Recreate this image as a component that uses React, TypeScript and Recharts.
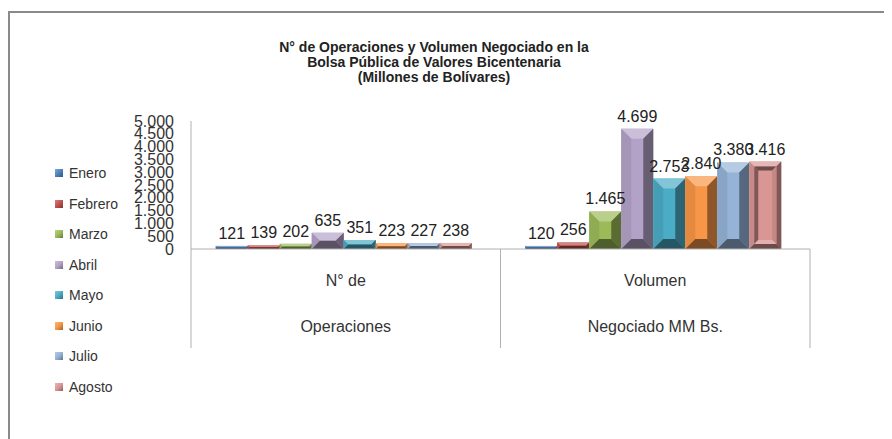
import React from 'react';
import { BarChart, Bar, XAxis, YAxis, LabelList, Legend } from 'recharts';

const categories = ['Operaciones', 'Volumen'];
const categoryLines: Record<string, string[]> = {
  Operaciones: ['N° de', 'Operaciones'],
  Volumen: ['Volumen', 'Negociado MM Bs.'],
};
const months = ['Enero', 'Febrero', 'Marzo', 'Abril', 'Mayo', 'Junio', 'Julio', 'Agosto'];
const monthColors = ['#4F81BD', '#C0504D', '#9BBB59', '#B3A2C7', '#4BACC6', '#F79646', '#95B3D7', '#D99694'];
const operaciones = [121, 139, 202, 635, 351, 223, 227, 238];
const volumen = [120, 256, 1465, 4699, 2753, 2840, 3380, 3416];
const yTicks = [0, 500, 1000, 1500, 2000, 2500, 3000, 3500, 4000, 4500, 5000];
const titleLines = [
  'N° de Operaciones y Volumen Negociado en la',
  'Bolsa Pública de Valores Bicentenaria',
  '(Millones de Bolívares)',
];

const data = categories.map((cat, ci) => {
  const row: Record<string, string | number> = { name: cat };
  months.forEach((m, mi) => {
    row[m] = ci === 0 ? operaciones[mi] : volumen[mi];
  });
  return row;
});

const FONT = '"Liberation Sans", Arial, sans-serif';
const CHART_W = 884;
const CHART_H = 431;
const PLOT_W = 619;

const fmt = (v: number) => String(v).replace(/\B(?=(\d{3})+(?!\d))/g, '.');

// mix a hex colour with white (amt > 0) or black (amt < 0)
const shade = (hex: string, amt: number) => {
  const n = parseInt(hex.slice(1), 16);
  const c = [(n >> 16) & 255, (n >> 8) & 255, n & 255].map((v) =>
    Math.round(amt >= 0 ? v + (255 - v) * amt : v * (1 + amt)),
  );
  return `rgb(${c[0]},${c[1]},${c[2]})`;
};

const BevelBar = (props: any) => {
  const { x, y, width, height, fill, frame } = props;
  if (!height || height <= 0) return null;
  const x2 = x + width;
  const y2 = y + height;
  const b = Math.min(frame ? 5 : 10, width / 3, height / 2);
  const facets = (
    <>
      <rect x={x} y={y} width={width} height={height} fill={fill} />
      <polygon points={`${x},${y} ${x2},${y} ${x2 - b},${y + b} ${x + b},${y + b}`} fill={shade(fill, 0.3)} />
      <polygon points={`${x},${y} ${x + b},${y + b} ${x + b},${y2 - b} ${x},${y2}`} fill={shade(fill, -0.08)} />
      <polygon points={`${x2},${y} ${x2},${y2} ${x2 - b},${y2 - b} ${x2 - b},${y + b}`} fill={shade(fill, -0.42)} />
      <polygon points={`${x},${y2} ${x + b},${y2 - b} ${x2 - b},${y2 - b} ${x2},${y2}`} fill={shade(fill, -0.5)} />
    </>
  );
  if (!frame || height < 16) return <g>{facets}</g>;
  const ix = x + b;
  const iy = y + b;
  const ix2 = x2 - b;
  const iy2 = y2 - b;
  const c = 4;
  return (
    <g>
      {facets}
      <rect x={ix} y={iy} width={ix2 - ix} height={iy2 - iy} fill={fill} />
      <polygon points={`${ix},${iy} ${ix2},${iy} ${ix2 - c},${iy + c} ${ix + c},${iy + c}`} fill={shade(fill, -0.5)} />
      <polygon points={`${ix},${iy} ${ix + c},${iy + c} ${ix + c},${iy2 - c} ${ix},${iy2}`} fill={shade(fill, -0.42)} />
      <polygon points={`${ix2},${iy} ${ix2},${iy2} ${ix2 - c},${iy2 - c} ${ix2 - c},${iy + c}`} fill={shade(fill, -0.1)} />
      <polygon points={`${ix},${iy2} ${ix + c},${iy2 - c} ${ix2 - c},${iy2 - c} ${ix2},${iy2}`} fill={shade(fill, 0.25)} />
    </g>
  );
};

const CategoryTick = (props: any) => {
  const { x, y, payload, index } = props;
  const half = (props.width || PLOT_W) / categories.length / 2;
  const lines = categoryLines[payload.value] || [payload.value];
  return (
    <g>
      {index === 0 && <line x1={x - half} y1={y} x2={x - half} y2={y + 99} stroke="#B0B0B0" />}
      <line x1={x + half} y1={y} x2={x + half} y2={y + 99} stroke="#B0B0B0" />
      {lines.map((t, i) => (
        <text
          key={t}
          x={x}
          y={y + 31 + i * 46}
          textAnchor="middle"
          dominantBaseline="central"
          fontSize={16}
          fontFamily={FONT}
          fill="#333"
        >
          {t}
        </text>
      ))}
    </g>
  );
};

const MonthLegend = () => (
  <div style={{ fontFamily: FONT, fontSize: 14, color: '#333' }}>
    {months.map((m, i) => (
      <div key={m} style={{ height: 30.5, display: 'flex', alignItems: 'center' }}>
        <span
          style={{
            display: 'inline-block',
            width: 8,
            height: 8,
            marginRight: 6,
            background: `linear-gradient(135deg, ${shade(monthColors[i], 0.3)}, ${monthColors[i]} 50%, ${shade(monthColors[i], -0.35)})`,
          }}
        />
        {m}
      </div>
    ))}
  </div>
);

export default function App() {
  return (
    <div style={{ position: 'relative', width: CHART_W, height: CHART_H }}>
      <div style={{ position: 'absolute', left: 0, top: 3, width: CHART_W, height: 2, background: '#8A8A8A' }} />
      <div style={{ position: 'absolute', left: 0, top: 3, width: 2, height: CHART_H - 3, background: '#8A8A8A' }} />
      <div
        style={{
          position: 'absolute',
          left: 426 - 250,
          top: 32,
          width: 500,
          textAlign: 'center',
          fontFamily: FONT,
          fontWeight: 'bold',
          fontSize: 14,
          lineHeight: '15px',
          color: '#222',
        }}
      >
        {titleLines.map((t) => (
          <div key={t}>{t}</div>
        ))}
      </div>
      <BarChart
        width={CHART_W}
        height={CHART_H}
        data={data}
        margin={{ top: 113, right: 82, bottom: 90, left: 0 }}
        barCategoryGap="8%"
        barGap={0}
      >
        <XAxis
          dataKey="name"
          height={100}
          axisLine={{ stroke: '#B0B0B0' }}
          tickLine={false}
          tickSize={0}
          tickMargin={0}
          tick={<CategoryTick />}
          interval={0}
        />
        <YAxis
          width={183}
          domain={[0, 5000]}
          ticks={yTicks}
          interval={0}
          axisLine={{ stroke: '#B0B0B0' }}
          tickLine={false}
          tickSize={0}
          tickMargin={17}
          tickFormatter={fmt}
          tick={{ fontSize: 16, fontFamily: FONT, fill: '#333' }}
        />
        <Legend
          layout="vertical"
          align="center"
          verticalAlign="middle"
          content={<MonthLegend />}
          wrapperStyle={{ position: 'absolute', left: 47, top: 150, width: 100 }}
        />
        {months.map((m, i) => (
          <Bar
            key={m}
            dataKey={m}
            fill={monthColors[i]}
            isAnimationActive={false}
            shape={(p: any) => <BevelBar {...p} fill={monthColors[i]} frame={m === 'Agosto'} />}
          >
            <LabelList
              dataKey={m}
              position="top"
              offset={7}
              formatter={(v: any) => fmt(Number(v))}
              style={{ fontSize: 16, fontFamily: FONT, fill: '#222' }}
            />
          </Bar>
        ))}
      </BarChart>
    </div>
  );
}
